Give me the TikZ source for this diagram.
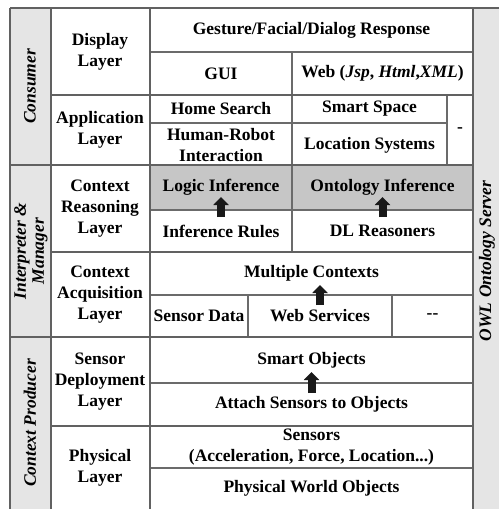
\documentclass[tikz,border=0pt]{standalone}
\usepackage{fontspec}
\setmainfont{Liberation Serif}
\usetikzlibrary{arrows.meta}

\begin{document}
\begin{tikzpicture}[x=1pt, y=-1pt,
		major/.style={line width=2.2pt, color=black!62},
		minor/.style={line width=1.6pt, color=black!58},
		cell/.style={align=center, inner sep=1pt, font=\fontsize{17.5}{21}\selectfont\bfseries},
		grp/.style={align=center, inner sep=1pt, rotate=90, font=\fontsize{17.5}{18}\selectfont\bfseries\itshape},
		upflow/.style={line width=8pt, color=black!90, -{Triangle[width=15pt,length=8pt]}}]
		%%%%% START %%%%%
		
		\useasboundingbox (0,0) rectangle (499,509);
		
		\fill[gray!20] (10,8) rectangle (51,509);
		\fill[gray!20] (473,8) rectangle (499,509);
		\fill[gray!45] (150,165) rectangle (473,210);
		
		\draw[minor] (150,52) -- (473,52);
		\draw[minor] (150,123) -- (447,123);
		\draw[minor] (150,210) -- (473,210);
		\draw[minor] (150,295) -- (473,295);
		\draw[minor] (150,383) -- (473,383);
		\draw[minor] (150,468) -- (473,468);
		\draw[minor] (292,52) -- (292,252);
		\draw[minor] (447,95) -- (447,165);
		\draw[minor] (248,295) -- (248,337);
		\draw[minor] (392,295) -- (392,337);
		
		\draw[major] (10,8) -- (499,8);
		\draw[major] (10,165) -- (473,165);
		\draw[major] (10,337) -- (473,337);
		\foreach \y in {95,252,426}
			\draw[major] (51,\y) -- (473,\y);
		\foreach \x in {10,51,150,473}
			\draw[major] (\x,8) -- (\x,509);
		
		\node[grp] (consumer) at (30,86.5) {Consumer};
		\node[grp] (interp) at (31,251) {Interpreter \&\\Manager};
		\node[grp] (producer) at (30,423) {Context Producer};
		\node[grp] (owl) at (487,261) {OWL Ontology Server};
		
		\node[cell] (display) at (100,51.5) {Display\\Layer};
		\node[cell] (appl) at (100,130) {Application\\Layer};
		\node[cell] (reason) at (100,209) {Context\\Reasoning\\Layer};
		\node[cell] (acquis) at (100,295) {Context\\Acquisition\\Layer};
		\node[cell] (deploy) at (100,382) {Sensor\\Deployment\\Layer};
		\node[cell] (phys) at (100,468) {Physical\\Layer};
		
		\node[cell] (gesture) at (311.5,30) {Gesture/Facial/Dialog Response};
		\node[cell] (gui) at (221,73.5) {GUI};
		\node[cell] (web) at (382.5,73.5) {Web (\textit{Jsp}, \textit{Html},\textit{XML})};
		\node[cell] (home) at (221,109) {Home Search};
		\node[cell] (space) at (369.5,109) {Smart Space};
		\node[cell] (hri) at (221,145) {Human-Robot\\Interaction};
		\node[cell] (locsys) at (369.5,145) {Location Systems};
		\node[cell] (appmore) at (460,130) {-};
		\node[cell] (logic) at (221,187.5) {Logic Inference};
		\node[cell] (onto) at (382.5,187.5) {Ontology Inference};
		\node[cell] (rules) at (221,231) {Inference Rules};
		\node[cell] (dlr) at (382.5,231) {DL Reasoners};
		\node[cell] (multi) at (311.5,273.5) {Multiple Contexts};
		\node[cell] (sdata) at (199,316) {Sensor Data};
		\node[cell] (wserv) at (320,316) {Web Services};
		\node[cell] (acqmore) at (432.5,316) {-{}-};
		\node[cell] (sobj) at (311.5,360) {Smart Objects};
		\node[cell] (attach) at (311.5,404.5) {Attach Sensors to Objects};
		\node[cell] (sensors) at (311.5,447) {Sensors\\(Acceleration, Force, Location...)};
		\node[cell] (world) at (311.5,488.5) {Physical World Objects};
		
		\draw[upflow, shorten <=14pt, shorten >=9.5pt] (rules.center) -- (logic.center);
		\draw[upflow, shorten <=14pt, shorten >=9.5pt] (dlr.center) -- (onto.center);
		\draw[upflow, shorten <=11pt, shorten >=11.5pt] (wserv.center) -- (wserv.center |- multi.center);
		\draw[upflow, shorten <=11.5pt, shorten >=12pt] (attach.center) -- (sobj.center);
		
		%%%%% END %%%%%
\end{tikzpicture}
\end{document}
